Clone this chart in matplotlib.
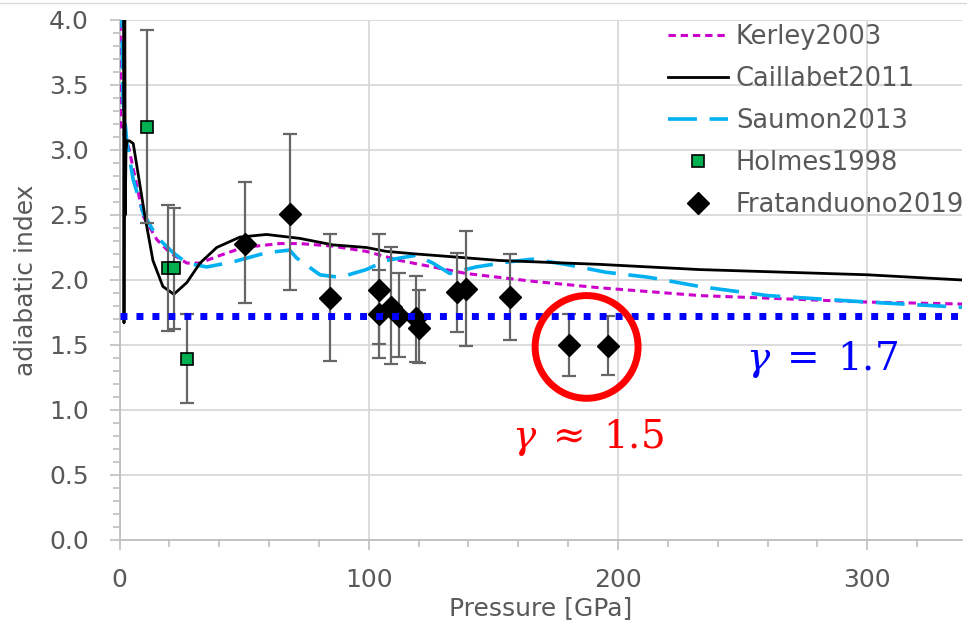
import matplotlib.pyplot as plt
import numpy as np
from matplotlib.patches import Ellipse
from matplotlib.lines import Line2D
from matplotlib.ticker import MultipleLocator

# Kerley2003
kerley_p = [0.3, 0.4, 3.8, 7, 9.5, 15, 20.2, 27, 32.3, 39, 49.6, 64.3, 72.3, 85.6, 99, 112.4, 125.7,
            139, 165.7, 192.6, 219.4, 232.7, 260, 300, 338]
kerley_g = [4.3, 3.2, 3.01, 2.72, 2.49, 2.31, 2.21, 2.13, 2.13, 2.18, 2.25, 2.28, 2.28, 2.26, 2.22, 2.15, 2.10,
            2.05, 1.99, 1.94, 1.90, 1.88, 1.86, 1.83, 1.815]
# Caillabet2011
caill_p = [1.6, 1.8, 2.1, 2.3, 2.6, 3.0, 4.0, 5.5, 10.2, 13.4, 17.4, 21.8, 27, 32.3, 39, 48.3, 59, 72.3,
           85.6, 99, 107, 119, 132.5, 152.5, 192.6, 232.7, 300, 338]
caill_g = [4.3, 1.67, 4.3, 2.5, 3.0, 3.07, 3.07, 3.05, 2.49, 2.15, 1.95, 1.89, 1.98, 2.13, 2.25, 2.33, 2.35, 2.32,
           2.27, 2.25, 2.22, 2.20, 2.18, 2.15, 2.12, 2.08, 2.04, 2.0]
# Saumon2013
saumon_p = [0.8, 1.4, 3, 5.5, 9.6, 15, 21.5, 27, 35, 45.7, 59, 68.3, 71, 80.4, 88.4, 99, 107, 119, 125.7,
            132.5, 143, 156.5, 165.7, 179, 195, 212.6, 232.7, 260, 300, 338]
saumon_g = [4.3, 3.38, 3.05, 2.77, 2.51, 2.33, 2.21, 2.13, 2.10, 2.14, 2.21, 2.23, 2.17, 2.04, 2.02, 2.08, 2.15, 2.19, 2.13,
            2.05, 2.10, 2.14, 2.16, 2.12, 2.06, 2.02, 1.95, 1.88, 1.83, 1.79]

# Holmes1998
holmes_p = [11, 19.4, 21.8, 27]
holmes_g = [3.18, 2.09, 2.09, 1.39]
holmes_lo = [2.44, 1.61, 1.62, 1.05]
holmes_hi = [3.92, 2.58, 2.55, 1.74]

# Fratanduono2019
frat_p = [50.4, 68.3, 84.4, 104, 104, 108.8, 112, 119, 120, 135.6, 139, 156.5, 180.5, 196]
frat_g = [2.28, 2.51, 1.86, 1.92, 1.74, 1.79, 1.72, 1.71, 1.63, 1.91, 1.93, 1.87, 1.50, 1.49]
frat_lo = [1.82, 1.92, 1.38, 1.40, 1.51, 1.35, 1.41, 1.37, 1.36, 1.60, 1.49, 1.54, 1.26, 1.27]
frat_hi = [2.75, 3.12, 2.35, 2.35, 2.08, 2.25, 2.05, 2.03, 1.92, 2.21, 2.38, 2.20, 1.74, 1.72]

gamma_ref = 1.72

grey = '#595959'
plt.rcParams['font.family'] = ['DejaVu Sans']

fig = plt.figure(figsize=(9.67, 6.34), dpi=100)
ax = fig.add_axes([0.1236, 0.1483, 0.8712, 0.8202])
fig.add_artist(Line2D([0, 1], [0.996, 0.996], transform=fig.transFigure, color='#d9d9d9', lw=1))

ax.plot(kerley_p, kerley_g, color='#cc00cc', lw=2.2, ls=(0, (2.4, 1.6)), label='Kerley2003', zorder=3)
ax.plot(caill_p, caill_g, color='black', lw=2.0, label='Caillabet2011', zorder=4)
ax.plot(saumon_p, saumon_g, color='#00b0f0', lw=2.6, ls=(0, (8, 3.5)), label='Saumon2013', zorder=3)

h_err = [np.array(holmes_g) - np.array(holmes_lo), np.array(holmes_hi) - np.array(holmes_g)]
ax.errorbar(holmes_p, holmes_g, yerr=h_err, fmt='none', ecolor='#666666', elinewidth=1.6,
            capsize=5, capthick=1.6, zorder=5)
ax.plot(holmes_p, holmes_g, 's', color='#00b050', mec='black', mew=1.2, ms=8,
        label='Holmes1998', zorder=6)
f_err = [np.array(frat_g) - np.array(frat_lo), np.array(frat_hi) - np.array(frat_g)]
ax.errorbar(frat_p, frat_g, yerr=f_err, fmt='none', ecolor='#666666', elinewidth=1.6,
            capsize=5, capthick=1.6, zorder=5)
ax.plot(frat_p, frat_g, 'D', color='black', ms=11, label='Fratanduono2019', zorder=6)

ax.axhline(gamma_ref, color='#0000ff', lw=5, ls=(0, (1, 1.3)), dash_capstyle='butt', zorder=7)

ax.add_patch(Ellipse((187.4, 1.485), 41.3, 0.79, fill=False, ec='#ff0000', lw=5, zorder=8))
ax.text(282, 1.31, r'$\gamma\;=\;1.7$', color='#0000ff', fontsize=28, ha='center', va='baseline',
        math_fontfamily='dejavuserif')
ax.text(187.8, 0.708, r'$\gamma\;\approx\;1.5$', color='#ff0000', fontsize=28, ha='center', va='baseline',
        math_fontfamily='dejavuserif')

ax.set_xlim(0, 338)
ax.set_ylim(0, 4)
ax.xaxis.set_major_locator(MultipleLocator(100))
ax.xaxis.set_minor_locator(MultipleLocator(20))
ax.yaxis.set_major_locator(MultipleLocator(0.5))
ax.yaxis.set_minor_locator(MultipleLocator(0.1))
ax.yaxis.set_major_formatter(plt.FormatStrFormatter('%.1f'))
ax.grid(True, which='major', color='#d9d9d9', lw=1.3)
ax.set_axisbelow(True)
for s in ['top', 'right']:
    ax.spines[s].set_visible(False)
for s in ['left', 'bottom']:
    ax.spines[s].set_color('#bfbfbf')
    ax.spines[s].set_linewidth(1.3)
ax.tick_params(which='major', direction='out', color='#bfbfbf', width=1.2, length=7,
               labelsize=18, labelcolor=grey)
ax.tick_params(which='minor', direction='out', color='#bfbfbf', width=1.2, length=5)
ax.tick_params(axis='y', which='major', pad=15)
ax.tick_params(axis='x', which='major', pad=13)
ax.set_xlabel('Pressure [GPa]', fontsize=18, color=grey, labelpad=3)
ax.set_ylabel('adiabatic index', fontsize=18, color=grey, labelpad=8)

ax.legend(loc='upper right', bbox_to_anchor=(0.997, 0.962), bbox_transform=fig.transFigure,
          frameon=False, fontsize=18.5, labelcolor=grey, handlelength=2.35, handletextpad=0.3,
          labelspacing=0.62, borderpad=0, borderaxespad=0)

fig.savefig('out.png', dpi=100)
